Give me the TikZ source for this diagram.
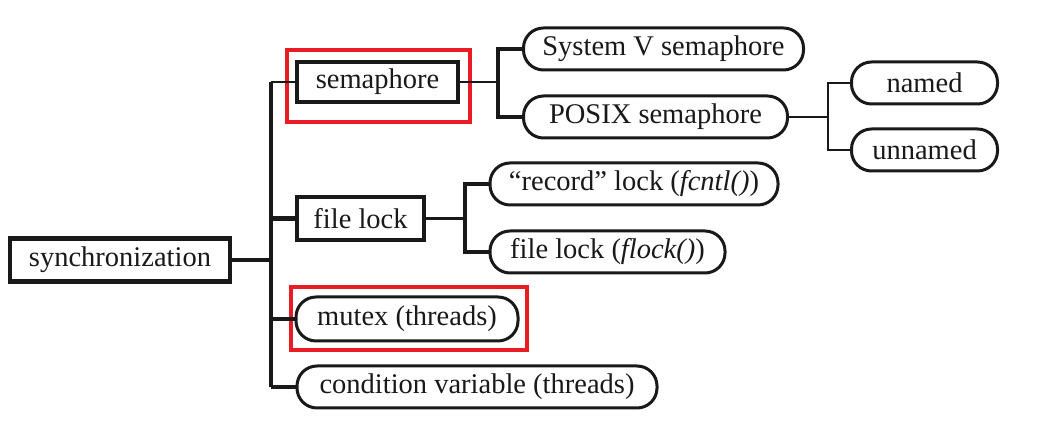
\documentclass[tikz,border=0pt]{standalone}
\usepackage{fontspec}
\setmainfont{Liberation Serif}
\definecolor{hlred}{RGB}{232,28,36}
\definecolor{ink}{RGB}{25,25,25}
\begin{document}
\begin{tikzpicture}[x=1pt,y=1pt,
  every node/.style={font=\fontsize{28.5}{30}\selectfont, text=ink, inner sep=0pt},
  sqbox/.style={draw=ink, line width=4.5pt, rectangle},
  rbox/.style={draw=ink, line width=3pt, rectangle, rounded corners=20pt},
  conn/.style={draw=ink, line width=2.6pt},
  fork/.style={draw=ink, line width=4.4pt},
  trunk/.style={draw=ink, line width=3.5pt},
  hl/.style={draw=hlred, line width=3.6pt}]
\useasboundingbox (0,0) rectangle (1044,443);
\fill[white] (0,0) rectangle (1044,443);
% nodes
\node[sqbox, minimum width=220pt, minimum height=43pt] (sync) at (120,183) {synchronization};
\node[sqbox, minimum width=161pt, minimum height=40pt] (sem) at (377.5,361) {semaphore};
\node[rbox, minimum width=280pt, minimum height=42pt] (sysv) at (663.5,394) {System V semaphore};
\node[rbox, minimum width=264pt, minimum height=42pt] (posix) at (655.5,326) {POSIX semaphore};
\node[rbox, minimum width=146pt, minimum height=42pt] (named) at (924.5,360) {named};
\node[rbox, minimum width=146pt, minimum height=42pt] (unnamed) at (924.5,293) {unnamed};
\node[sqbox, minimum width=127pt, minimum height=43pt] (fl) at (360.5,224.5) {file lock};
\node[rbox, minimum width=288pt, minimum height=42pt] (rec) at (634,259) {“record” lock (\textit{fcntl()})};
\node[rbox, minimum width=235pt, minimum height=42pt] (flk) at (607.5,191) {file lock (\textit{flock()})};
\node[rbox, minimum width=222pt, minimum height=44pt] (mutex) at (407,124) {mutex (threads)};
\node[rbox, minimum width=360pt, minimum height=42pt] (cond) at (477,56) {condition variable (threads)};
% highlight boxes
\node[hl, minimum width=183pt, minimum height=72pt] (hlsem) at (378.5,357) {};
\node[hl, minimum width=236pt, minimum height=63pt] (hlmutex) at (409,124.5) {};
% junction coordinates
\coordinate (t1) at (271,183);
\coordinate (b1) at (498,361);
\coordinate (b2) at (828,326);
\coordinate (b3) at (465,224.5);
% trunk
\draw[trunk] (t1 |- sem.west) -- (t1 |- cond.west);
\draw[fork] (sync.east) -- (t1);
\draw[conn] (t1 |- sem.west) -- (sem.west);
\draw[fork] (t1 |- fl.west) -- (fl.west);
\draw[trunk] (t1 |- mutex.west) -- (mutex.west);
\draw[trunk] (t1 |- cond.west) -- (cond.west);
% semaphore fork
\draw[conn] (sem.east) -- (b1);
\draw[fork] (sysv.west) -| (b1) |- (posix.west);
% posix fork
\draw[conn] (posix.east) -- (b2);
\draw[conn] (named.west) -| (b2) |- (unnamed.west);
% file lock fork
\draw[conn] (fl.east) -- (b3);
\draw[fork] (rec.west) -| (b3) |- (flk.west);
\end{tikzpicture}
\end{document}
